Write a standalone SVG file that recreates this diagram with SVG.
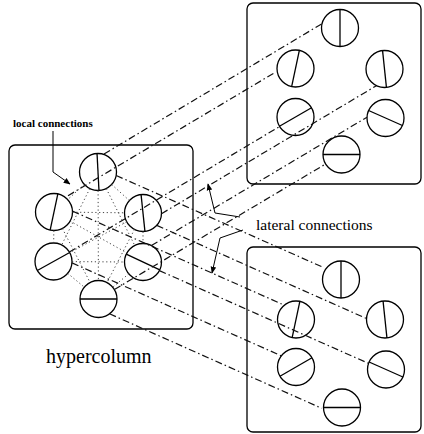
<svg xmlns="http://www.w3.org/2000/svg" width="424" height="434" viewBox="0 0 424 434">
<defs>
<style>
.box{fill:none;stroke:#000;stroke-width:1.3}
.u{fill:none;stroke:#000;stroke-width:1.3}
.d{stroke:#000;stroke-width:1.3}
.dd{fill:none;stroke:#111;stroke-width:1.2;stroke-dasharray:7 3 1.5 3}
.dot{fill:none;stroke:#444;stroke-width:1;stroke-dasharray:1.2 2.6}
.lead{fill:none;stroke:#000;stroke-width:1}
text{font-family:"Liberation Serif","Times New Roman",serif;fill:#000}
</style>
<marker id="ah" viewBox="0 0 10 10" refX="9" refY="5" markerWidth="7" markerHeight="7" orient="auto" markerUnits="userSpaceOnUse">
<path d="M0,1 L10,5 L0,9 Z" fill="#000"/>
</marker>
<g id="unit">
<circle r="18.5" class="u"/>
</g>
</defs>
<rect width="424" height="434" fill="#fff"/>

<g id="hypercolumn-left">
<rect x="9" y="145" width="184" height="184" rx="6" class="box"/>
<g id="L-T"><circle cx="98" cy="172" r="18.5" class="u"/><line x1="-18.5" x2="18.5" class="d" transform="translate(98,172) rotate(87)"/></g>
<g id="L-UL"><circle cx="54" cy="212" r="18.5" class="u"/><line x1="-18.5" x2="18.5" class="d" transform="translate(54,212) rotate(102)"/></g>
<g id="L-UR"><circle cx="143" cy="213" r="18.5" class="u"/><line x1="-18.5" x2="18.5" class="d" transform="translate(143,213) rotate(84)"/></g>
<g id="L-LL"><circle cx="53.5" cy="261.5" r="18.5" class="u"/><line x1="-18.5" x2="18.5" class="d" transform="translate(53.5,261.5) rotate(-29)"/></g>
<g id="L-LR"><circle cx="143" cy="262" r="18.5" class="u"/><line x1="-18.5" x2="18.5" class="d" transform="translate(143,262) rotate(25)"/></g>
<g id="L-B"><circle cx="98.5" cy="299" r="18.5" class="u"/><line x1="-18.5" x2="18.5" class="d" transform="translate(98.5,299)"/></g>
</g>

<g id="hypercolumn-top-right">
<rect x="247" y="3" width="174" height="181" rx="6" class="box"/>
<g id="TR-T"><circle cx="340" cy="28" r="18.5" class="u"/><line x1="-18.5" x2="18.5" class="d" transform="translate(340,28) rotate(90)"/></g>
<g id="TR-UL"><circle cx="295.5" cy="68.5" r="18.5" class="u"/><line x1="-18.5" x2="18.5" class="d" transform="translate(295.5,68.5) rotate(102)"/></g>
<g id="TR-UR"><circle cx="384.5" cy="69" r="18.5" class="u"/><line x1="-18.5" x2="18.5" class="d" transform="translate(384.5,69) rotate(84)"/></g>
<g id="TR-LL"><circle cx="295.5" cy="117" r="18.5" class="u"/><line x1="-18.5" x2="18.5" class="d" transform="translate(295.5,117) rotate(-30)"/></g>
<g id="TR-LR"><circle cx="385.5" cy="118" r="18.5" class="u"/><line x1="-18.5" x2="18.5" class="d" transform="translate(385.5,118) rotate(24)"/></g>
<g id="TR-B"><circle cx="341.5" cy="154.5" r="18.5" class="u"/><line x1="-18.5" x2="18.5" class="d" transform="translate(341.5,154.5)"/></g>
</g>

<g id="hypercolumn-bottom-right">
<rect x="247" y="247" width="174" height="185" rx="6" class="box"/>
<g id="BR-T"><circle cx="341" cy="279.5" r="18.5" class="u"/><line x1="-18.5" x2="18.5" class="d" transform="translate(341,279.5) rotate(90)"/></g>
<g id="BR-UL"><circle cx="296" cy="319.5" r="18.5" class="u"/><line x1="-18.5" x2="18.5" class="d" transform="translate(296,319.5) rotate(102)"/></g>
<g id="BR-UR"><circle cx="385" cy="319.5" r="18.5" class="u"/><line x1="-18.5" x2="18.5" class="d" transform="translate(385,319.5) rotate(84)"/></g>
<g id="BR-LL"><circle cx="296" cy="367" r="18.5" class="u"/><line x1="-18.5" x2="18.5" class="d" transform="translate(296,367) rotate(-30)"/></g>
<g id="BR-LR"><circle cx="386" cy="369.5" r="18.5" class="u"/><line x1="-18.5" x2="18.5" class="d" transform="translate(386,369.5) rotate(24)"/></g>
<g id="BR-B"><circle cx="342" cy="407.5" r="18.5" class="u"/><line x1="-18.5" x2="18.5" class="d" transform="translate(342,407.5)"/></g>
</g>

<g id="connectors">
<g id="local">
<line class="dot" x1="84.3" y1="184.4" x2="67.7" y2="199.6"/>
<line class="dot" x1="111.7" y1="184.5" x2="129.3" y2="200.5"/>
<line class="dot" x1="89.8" y1="188.6" x2="61.7" y2="244.9"/>
<line class="dot" x1="106.3" y1="188.6" x2="134.7" y2="245.4"/>
<line class="dot" x1="98.1" y1="190.5" x2="98.4" y2="280.5"/>
<line class="dot" x1="72.5" y1="212.2" x2="124.5" y2="212.8"/>
<line class="dot" x1="53.8" y1="230.5" x2="53.7" y2="243"/>
<line class="dot" x1="70.1" y1="221.1" x2="126.9" y2="252.9"/>
<line class="dot" x1="62.4" y1="228.5" x2="90.1" y2="282.5"/>
<line class="dot" x1="126.7" y1="221.8" x2="69.8" y2="252.7"/>
<line class="dot" x1="143" y1="231.5" x2="143" y2="243.5"/>
<line class="dot" x1="134.5" y1="229.4" x2="107" y2="282.6"/>
<line class="dot" x1="72" y1="261.6" x2="124.5" y2="262"/>
<line class="dot" x1="67.7" y1="273.3" x2="84.3" y2="287.2"/>
<line class="dot" x1="128.8" y1="273.8" x2="112.7" y2="287.2"/>
</g>
<g id="lateral-up">
<line class="dd" x1="104" y1="154" x2="322" y2="23.7"/>
<line class="dd" x1="68" y1="195.7" x2="276" y2="71.9"/>
<line class="dd" x1="161.5" y1="213.7" x2="376.4" y2="85.7"/>
<line class="dd" x1="69.4" y1="252" x2="279.6" y2="126.5"/>
<line class="dd" x1="151.4" y1="245.5" x2="367" y2="117.2"/>
<line class="dd" x1="114.4" y1="289.5" x2="325.6" y2="164"/>
</g>
<g id="lateral-down">
<line class="dd" x1="116.2" y1="175.5" x2="321.7" y2="266.7"/>
<line class="dd" x1="156.8" y1="225.4" x2="366" y2="318.3"/>
<line class="dd" x1="72.5" y1="211.1" x2="281.7" y2="304"/>
<line class="dd" x1="159.4" y1="270.6" x2="368.3" y2="363.3"/>
<line class="dd" x1="72" y1="262.9" x2="281.7" y2="356"/>
<line class="dd" x1="109.5" y1="313.8" x2="321.7" y2="408.3"/>
</g>
<g id="callouts">
<polyline class="lead" points="53,131 53,172 70,184" marker-end="url(#ah)"/>
<polyline class="lead" points="240,217 215,213 208,184" marker-end="url(#ah)"/>
<polyline class="lead" points="243,230 220,238 212,273" marker-end="url(#ah)"/>
</g>
</g>

<g id="labels">
<text x="13" y="127" font-size="11" font-weight="bold">local connections</text>
<text x="256" y="230" font-size="15.5">lateral connections</text>
<text x="46" y="363" font-size="20">hypercolumn</text>
</g>
</svg>
